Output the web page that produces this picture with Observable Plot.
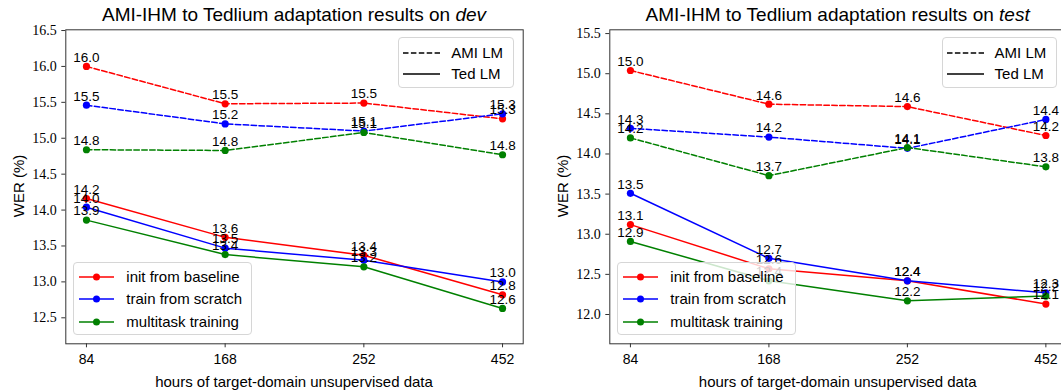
<!DOCTYPE html>
<html>
<head>
<meta charset="utf-8">
<script src="https://cdn.jsdelivr.net/npm/d3@7"></script>
<script src="https://cdn.jsdelivr.net/npm/@observablehq/plot@0.6"></script>
<style>
  html, body { margin: 0; padding: 0; background: #fff; }
  #wrap { position: relative; width: 1061px; height: 391px; overflow: hidden; font-family: "Liberation Sans", Arial, sans-serif; color: #000; }
  .panel { position: absolute; top: 0; }
  .ov { position: absolute; white-space: nowrap; color: #000; }
  .title { font-size: 19px; transform: translate(-50%, -50%); }
  .xlab { font-size: 15px; transform: translate(-50%, -50%); }
  .ylab { font-size: 15px; transform: translate(-50%, -50%) rotate(-90deg); }
  .legend { position: absolute; box-sizing: border-box; background: rgba(255,255,255,0.8); border: 1px solid #d6d6d6; border-radius: 4px; }
  .lrow { position: absolute; left: 0; height: 0; }
  .lrow svg { position: absolute; top: -6px; overflow: visible; }
  .lrow span { position: absolute; font-size: 15px; line-height: 15px; top: -8px; white-space: nowrap; }
</style>
</head>
<body>
<div id="wrap"></div>
<script>
// ---------- data ----------
const hours = ["84", "168", "252", "452"];
const methods = ["init from baseline", "train from scratch", "multitask training"];
const methodColors = ["#ff0000", "#0000ff", "#008000"];
const lmNames = ["AMI LM", "Ted LM"];

// dev set WER (%)
const devAmiBaseline  = [16.00, 15.48, 15.49, 15.27];
const devAmiScratch   = [15.46, 15.20, 15.10, 15.34];
const devAmiMultitask = [14.84, 14.83, 15.08, 14.77];
const devTedBaseline  = [14.16, 13.62, 13.37, 12.82];
const devTedScratch   = [14.04, 13.47, 13.30, 13.00];
const devTedMultitask = [13.86, 13.38, 13.21, 12.63];

// test set WER (%)
const testAmiBaseline  = [15.04, 14.62, 14.59, 14.23];
const testAmiScratch   = [14.32, 14.21, 14.07, 14.43];
const testAmiMultitask = [14.20, 13.73, 14.08, 13.84];
const testTedBaseline  = [13.12, 12.57, 12.42, 12.13];
const testTedScratch   = [13.51, 12.70, 12.42, 12.27];
const testTedMultitask = [12.91, 12.42, 12.17, 12.23];

const devYTicks  = [12.5, 13.0, 13.5, 14.0, 14.5, 15.0, 15.5, 16.0, 16.5];
const testYTicks = [12.0, 12.5, 13.0, 13.5, 14.0, 14.5, 15.0, 15.5];

const xLabel = "hours of target-domain unsupervised data";
const yLabel = "WER (%)";

function rows(series) {
  const out = [];
  series.forEach(([lm, method, vals]) => {
    vals.forEach((v, i) => out.push({lm, method, hour: hours[i], wer: v}));
  });
  return out;
}

const devRows = rows([
  [lmNames[0], methods[0], devAmiBaseline],
  [lmNames[0], methods[1], devAmiScratch],
  [lmNames[0], methods[2], devAmiMultitask],
  [lmNames[1], methods[0], devTedBaseline],
  [lmNames[1], methods[1], devTedScratch],
  [lmNames[1], methods[2], devTedMultitask]
]);
const testRows = rows([
  [lmNames[0], methods[0], testAmiBaseline],
  [lmNames[0], methods[1], testAmiScratch],
  [lmNames[0], methods[2], testAmiMultitask],
  [lmNames[1], methods[0], testTedBaseline],
  [lmNames[1], methods[1], testTedScratch],
  [lmNames[1], methods[2], testTedMultitask]
]);

// ---------- layout ----------
const DASH = "5.5,2.4";
const wrap = document.getElementById("wrap");

const panels = [
  {data: devRows, setName: "dev", left: 0, width: 530, marginLeft: 65.3, marginRight: 7.3,
   yDomain: [12.138, 16.51], yTicks: devYTicks},
  {data: testRows, setName: "test", left: 530, width: 545, marginLeft: 79.3, marginRight: 9,
   yDomain: [11.635, 15.547], yTicks: testYTicks}
];
const marginTop = 29.3, marginBottom = 47.7, H = 391;

function ov(cls, html, x, y) {
  const d = document.createElement("div");
  d.className = "ov " + cls;
  d.innerHTML = html;
  d.style.left = x + "px";
  d.style.top = y + "px";
  wrap.appendChild(d);
  return d;
}

function swatch(color, dashed, marker) {
  return `<svg width="35" height="12"><line x1="0" y1="6" x2="35" y2="6" stroke="${color}" stroke-width="1.5" ${dashed ? `stroke-dasharray="${DASH}"` : ""}/>${marker ? `<circle cx="17.5" cy="6" r="3.5" fill="${color}"/>` : ""}</svg>`;
}

panels.forEach(p => {
  const chart = Plot.plot({
    width: p.width,
    height: H,
    marginLeft: p.marginLeft,
    marginRight: p.marginRight,
    marginTop,
    marginBottom,
    x: {type: "point", domain: hours, padding: 0.149, round: false},
    y: {domain: p.yDomain},
    color: {domain: methods, range: methodColors},
    style: {fontFamily: "Liberation Sans, Arial, sans-serif", background: "transparent", overflow: "visible"},
    marks: [
      Plot.line(p.data.filter(d => d.lm === lmNames[0]), {x: "hour", y: "wer", z: "method", stroke: "method", strokeWidth: 1.5, strokeDasharray: DASH}),
      Plot.line(p.data.filter(d => d.lm === lmNames[1]), {x: "hour", y: "wer", z: "method", stroke: "method", strokeWidth: 1.5}),
      Plot.dot(p.data, {x: "hour", y: "wer", fill: "method", r: 3.6}),
      Plot.text(p.data, {x: "hour", y: "wer", text: d => d.wer.toFixed(1), dy: -9, fontSize: 13.5, fill: "#000"}),
      Plot.frame({stroke: "#333", strokeWidth: 1}),
      Plot.axisY(p.yTicks, {tickSize: 4, tickPadding: 5, tickFormat: d => d.toFixed(1), fontSize: 14, fontFamily: "Liberation Serif, serif", label: null, stroke: "#333"}),
      Plot.axisX({tickSize: 4, tickPadding: 6, fontSize: 14, label: null, stroke: "#333"})
    ]
  });
  chart.classList.add("panel");
  chart.style.left = p.left + "px";
  wrap.appendChild(chart);

  const fl = p.left + p.marginLeft;
  const fr = p.left + p.width - p.marginRight;
  const cx = (fl + fr) / 2;

  ov("title", `AMI-IHM to Tedlium adaptation results on <i>${p.setName}</i>`, cx, 15);
  ov("xlab", xLabel, cx, 381);
  ov("ylab", yLabel, fl - 47, (marginTop + H - marginBottom) / 2);

  // LM legend (top-right)
  const lg1 = document.createElement("div");
  lg1.className = "legend";
  Object.assign(lg1.style, {left: (fr - 8.7 - 115.7) + "px", top: "36.7px", width: "115.7px", height: "51px"});
  lmNames.forEach((name, i) => {
    const r = document.createElement("div");
    r.className = "lrow";
    r.style.top = (i === 0 ? 15.6 : 36) + "px";
    r.innerHTML = `<svg width="37" height="12" style="left:4px">${`<line x1="0" y1="6" x2="37" y2="6" stroke="#000" stroke-width="1.5" ${i === 0 ? `stroke-dasharray="${DASH}"` : ""}/>`}</svg><span style="left:52px">${name}</span>`;
    lg1.appendChild(r);
  });
  wrap.appendChild(lg1);

  // method legend (bottom-left)
  const lg2 = document.createElement("div");
  lg2.className = "legend";
  Object.assign(lg2.style, {left: (fl + 8) + "px", top: "262.3px", width: "178.4px", height: "72.7px"});
  methods.forEach((m, i) => {
    const r = document.createElement("div");
    r.className = "lrow";
    r.style.top = (13.4 + i * 22.5) + "px";
    r.innerHTML = `<span style="left:52px">${m}</span>`;
    const s = document.createElement("div");
    s.innerHTML = swatch(methodColors[i], false, true);
    const svg = s.firstChild;
    svg.style.left = "5px";
    r.insertBefore(svg, r.firstChild);
    lg2.appendChild(r);
  });
  wrap.appendChild(lg2);
});
</script>
</body>
</html>
